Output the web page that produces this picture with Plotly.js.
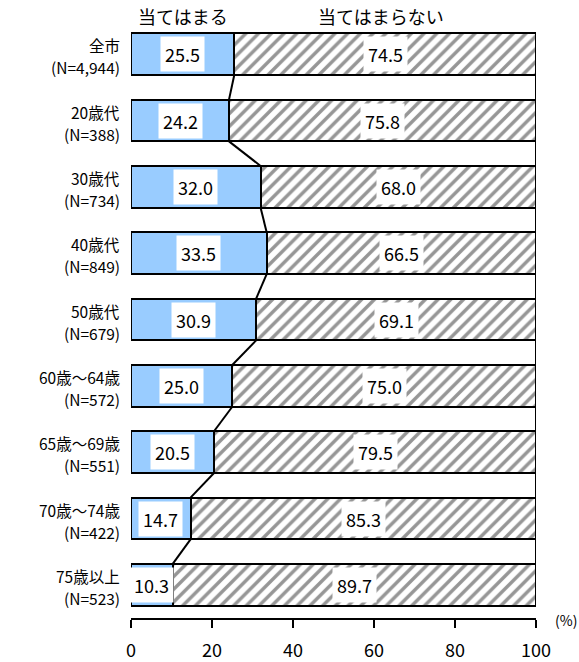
<!DOCTYPE html>
<html>
<head>
<meta charset="utf-8">
<script src="https://cdn.plot.ly/plotly-3.0.1.min.js"></script>
<style>html,body{margin:0;padding:0;background:#fff;}#chart{width:579px;height:662px;}</style>
</head>
<body>
<div id="chart"></div>
<script>
const groups = ["全市", "20歳代", "30歳代", "40歳代", "50歳代", "60歳～64歳", "65歳～69歳", "70歳～74歳", "75歳以上"];
const sampleN = ["4,944", "388", "734", "849", "679", "572", "551", "422", "523"];
const applies = [25.5, 24.2, 32.0, 33.5, 30.9, 25.0, 20.5, 14.7, 10.3];
const notApplies = [74.5, 75.8, 68.0, 66.5, 69.1, 75.0, 79.5, 85.3, 89.7];
const seriesNames = ["当てはまる", "当てはまらない"];
const xTicks = [0, 20, 40, 60, 80, 100];

const FONT = '"Noto Sans CJK JP", "Noto Sans", sans-serif';
const idx = groups.map((g, i) => i);
const BW = 0.63;

const traces = [
  {
    type: 'bar', orientation: 'h', name: seriesNames[0],
    y: idx, x: applies, width: BW,
    marker: {color: '#99CCFF', line: {color: '#000', width: 2}},
    hoverinfo: 'skip'
  },
  {
    type: 'bar', orientation: 'h', name: seriesNames[1],
    y: idx, x: notApplies, width: BW,
    marker: {color: '#ffffff', line: {color: '#000', width: 2},
      pattern: {shape: '/', fgcolor: '#969696', bgcolor: '#ffffff', size: 9, solidity: 0.38}},
    hoverinfo: 'skip'
  }
];

// series lines connecting segment boundaries
for (let i = 0; i < groups.length - 1; i++) {
  traces.push({
    type: 'scatter', mode: 'lines', showlegend: false, hoverinfo: 'skip',
    x: [applies[i], applies[i + 1]], y: [i + BW / 2, i + 1 - BW / 2],
    line: {color: '#000', width: 2}
  });
  traces.push({
    type: 'scatter', mode: 'lines', showlegend: false, hoverinfo: 'skip',
    x: [applies[i] + notApplies[i], applies[i + 1] + notApplies[i + 1]], y: [i + BW / 2, i + 1 - BW / 2],
    line: {color: '#000', width: 2}
  });
}

const annotations = [];
groups.forEach((g, i) => {
  annotations.push({
    x: applies[i] / 2, y: i, xref: 'x', yref: 'y', showarrow: false,
    text: applies[i].toFixed(1), bgcolor: '#fff', borderpad: 4,
    font: {family: FONT, size: 18, color: '#000'}
  });
  annotations.push({
    x: applies[i] + notApplies[i] / 2, y: i, xref: 'x', yref: 'y', showarrow: false,
    text: notApplies[i].toFixed(1), bgcolor: '#fff', borderpad: 4,
    font: {family: FONT, size: 18, color: '#000'}
  });
  // category labels (two lines)
  annotations.push({
    x: 0, y: i, xref: 'paper', yref: 'y', xanchor: 'right', yanchor: 'middle',
    xshift: -9, yshift: 9, showarrow: false, text: g,
    font: {family: FONT, size: 15.5, color: '#000'}
  });
  annotations.push({
    x: 0, y: i, xref: 'paper', yref: 'y', xanchor: 'right', yanchor: 'middle',
    xshift: -9, yshift: -13, showarrow: false, text: "(N=" + sampleN[i] + ")",
    font: {family: FONT, size: 15.5, color: '#000'}
  });
});
annotations.push({x: applies[0] / 2, y: 1.0, xref: 'x', yref: 'paper', yanchor: 'middle', yshift: 5,
  showarrow: false, text: seriesNames[0], font: {family: FONT, size: 18, color: '#000'}});
annotations.push({x: applies[0] + notApplies[0] / 2 - 1, y: 1.0, xref: 'x', yref: 'paper', yanchor: 'middle', yshift: 5,
  showarrow: false, text: seriesNames[1], font: {family: FONT, size: 18, color: '#000'}});
annotations.push({x: 1.0, y: 0, xref: 'paper', yref: 'paper', xanchor: 'center', yanchor: 'middle', xshift: 30, yshift: -2,
  showarrow: false, text: '(%)', font: {family: FONT, size: 14, color: '#000'}});

const layout = {
  width: 579, height: 662,
  margin: {l: 131, r: 43, t: 21, b: 44},
  paper_bgcolor: '#fff', plot_bgcolor: '#fff',
  barmode: 'stack', showlegend: false,
  font: {family: FONT, size: 18, color: '#000'},
  xaxis: {
    range: [0, 100], tickvals: xTicks, ticktext: xTicks.map(String),
    showgrid: false, zeroline: false, showline: true, linecolor: '#000', linewidth: 2,
    ticks: 'outside', ticklen: 8, tickwidth: 2, tickcolor: '#000', ticklabelstandoff: 7,
    tickfont: {family: FONT, size: 18, color: '#000'}, fixedrange: true
  },
  yaxis: {
    range: [groups.length - 0.5, -0.5], tickvals: idx, showticklabels: false,
    showgrid: false, zeroline: false, showline: false, ticks: '', fixedrange: true
  },
  annotations: annotations
};

Plotly.newPlot('chart', traces, layout, {displayModeBar: false, staticPlot: true});
</script>
</body>
</html>
